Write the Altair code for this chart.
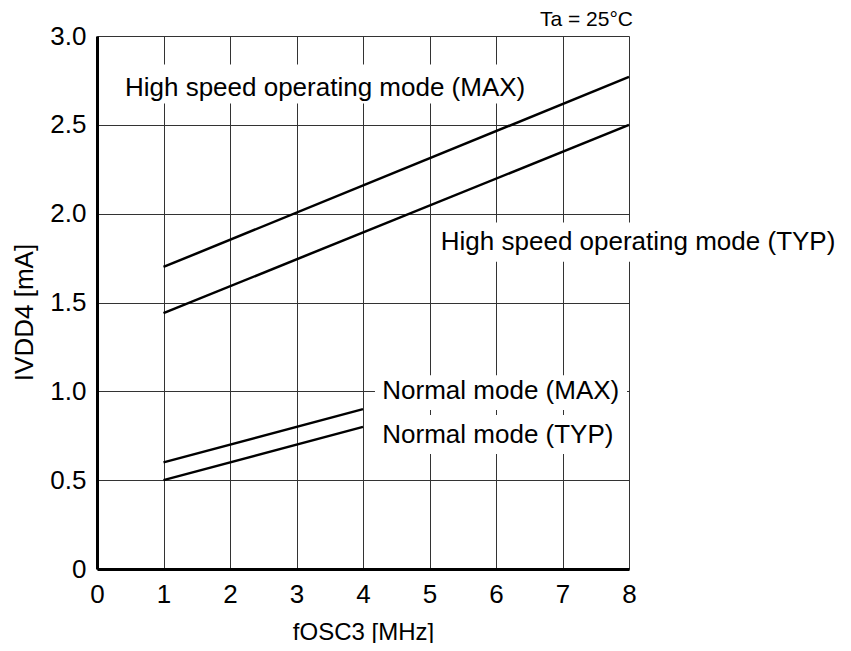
import altair as alt
import pandas as pd

# Series (x in MHz, y in mA)
hs_max_x = [1, 8]
hs_max_y = [1.70, 2.77]
hs_typ_x = [1, 8]
hs_typ_y = [1.44, 2.50]
nm_max_x = [1, 4]
nm_max_y = [0.60, 0.90]
nm_typ_x = [1, 4]
nm_typ_y = [0.50, 0.80]

series_names = ["HS MAX", "HS TYP", "Normal MAX", "Normal TYP"]
series_x = [hs_max_x, hs_typ_x, nm_max_x, nm_typ_x]
series_y = [hs_max_y, hs_typ_y, nm_max_y, nm_typ_y]

# Annotation labels
label_text = ["High speed operating mode (MAX)", "High speed operating mode (TYP)",
              "Normal mode (MAX)", "Normal mode (TYP)"]
label_x = [0.42, 5.17, 4.29, 4.29]
label_y = [2.71, 1.84, 1.00, 0.754]
box_x0 = [0.32, 5.08, 4.18, 4.18]
box_x1 = [6.66, 11.3, 7.97, 7.90]
box_y0 = [2.62, 1.73, 0.895, 0.647]
box_y1 = [2.84, 1.95, 1.09, 0.867]

# Condition note (top right)
note_text = ["Ta = 25°C"]
note_x = [8.06]
note_y = [3.0]

x_ticks = [0, 1, 2, 3, 4, 5, 6, 7, 8]
y_ticks = [0, 0.5, 1.0, 1.5, 2.0, 2.5, 3.0]

FONT = "Liberation Sans"

rows = []
for name, xs, ys in zip(series_names, series_x, series_y):
    for xv, yv in zip(xs, ys):
        rows.append({"series": name, "x": xv, "y": yv})
lines_df = pd.DataFrame(rows)

labels_df = pd.DataFrame({
    "text": label_text, "x": label_x, "y": label_y,
    "x0": box_x0, "x1": box_x1, "y0": box_y0, "y1": box_y1,
})
note_df = pd.DataFrame({"text": note_text, "x": note_x, "y": note_y})

xscale = alt.Scale(domain=[0, 8], nice=False, zero=False)
yscale = alt.Scale(domain=[0, 3], nice=False, zero=False)

xaxis = alt.Axis(values=x_ticks, format="d", grid=True, tickSize=0, labelPadding=12,
                 labelFlush=False,
                 labelFontSize=26, labelFont=FONT, labelColor="black",
                 domainColor="black", domainWidth=3, gridColor="#333", gridWidth=1,
                 title="fOSC3 [MHz]", titleFont=FONT, titleFontSize=24,
                 titleFontWeight="normal", titleColor="black", titlePadding=13)
yaxis = alt.Axis(values=y_ticks, grid=True, tickSize=0, labelPadding=11,
                 labelFlush=False,
                 labelFontSize=26, labelFont=FONT, labelColor="black",
                 labelExpr="datum.value == 0 ? '0' : format(datum.value, '.1f')",
                 domainColor="black", domainWidth=3, gridColor="#333", gridWidth=1,
                 title="IVDD4 [mA]", titleFont=FONT, titleFontSize=26,
                 titleFontWeight="normal", titleColor="black",
                 titleAngle=270, titleAlign="center", titleBaseline="middle",
                 titleX=-73, titleY=276)

lines = alt.Chart(lines_df).mark_line(color="black", strokeWidth=2.5).encode(
    x=alt.X("x:Q", scale=xscale, axis=xaxis),
    y=alt.Y("y:Q", scale=yscale, axis=yaxis),
    detail="series:N",
)

boxes = alt.Chart(labels_df).mark_rect(color="white", opacity=1).encode(
    x=alt.X("x0:Q", scale=xscale, axis=xaxis), x2="x1:Q",
    y=alt.Y("y0:Q", scale=yscale, axis=yaxis), y2="y1:Q",
)

texts = alt.Chart(labels_df).mark_text(
    align="left", baseline="middle", font=FONT, fontSize=26, color="black"
).encode(
    x=alt.X("x:Q", scale=xscale, axis=xaxis),
    y=alt.Y("y:Q", scale=yscale, axis=yaxis),
    text="text:N",
)

note = alt.Chart(note_df).mark_text(
    align="right", baseline="bottom", font=FONT, fontSize=21, color="black", dy=-6
).encode(
    x=alt.X("x:Q", scale=xscale, axis=xaxis),
    y=alt.Y("y:Q", scale=yscale, axis=yaxis),
    text="text:N",
)

chart = alt.layer(lines, boxes, texts, note).properties(
    width=532, height=533,
    autosize=alt.AutoSizeParams(type="none"),
    padding={"left": 89, "top": 28, "right": 212, "bottom": 74},
).configure_view(stroke="black", strokeWidth=1.5).configure(background="white")

chart.save("out.html", embed_options={"renderer": "svg", "actions": False})
